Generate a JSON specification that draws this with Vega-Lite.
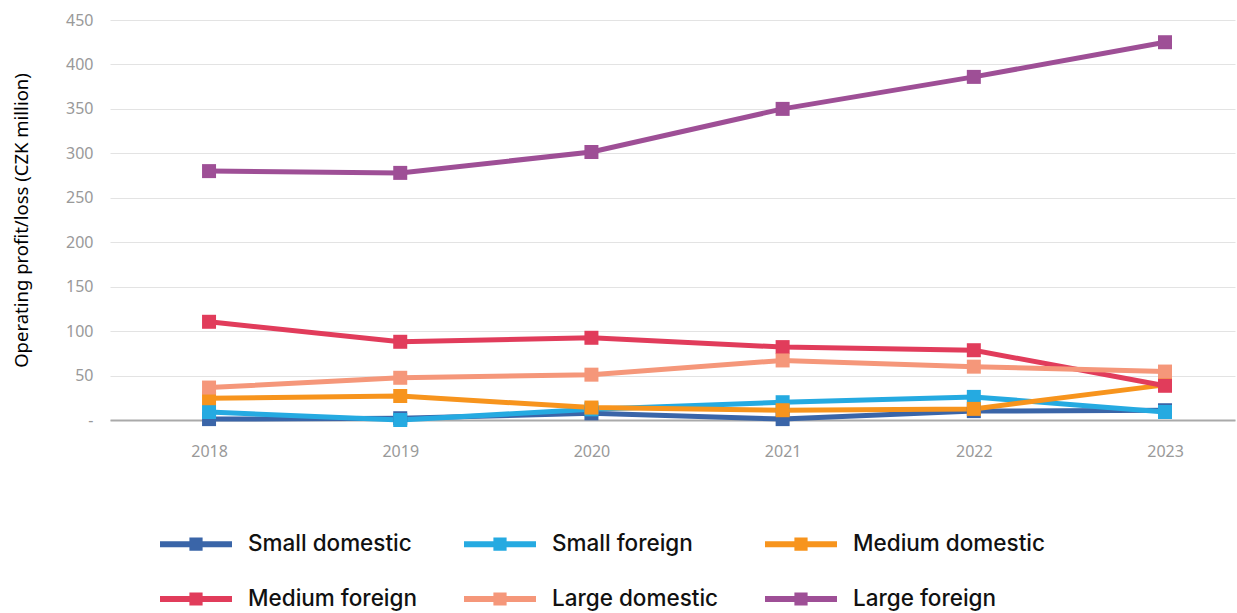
{
  "$schema": "https://vega.github.io/schema/vega-lite/v6.json",
  "width": 1125,
  "height": 400,
  "autosize": {"type": "none"},
  "padding": {"left": 110, "top": 20, "right": 2, "bottom": 193},
  "background": "white",
  "config": {
    "font": "Noto Sans",
    "view": {"stroke": null},
    "axis": {"labelFont": "Noto Sans", "titleFont": "Noto Sans"}
  },
  "data": {
    "values": [
      {"series": "Small domestic", "year": 2018, "value": 1},
      {"series": "Small domestic", "year": 2019, "value": 2},
      {"series": "Small domestic", "year": 2020, "value": 7.5},
      {"series": "Small domestic", "year": 2021, "value": 1},
      {"series": "Small domestic", "year": 2022, "value": 10},
      {"series": "Small domestic", "year": 2023, "value": 11},
      {"series": "Small foreign", "year": 2018, "value": 9},
      {"series": "Small foreign", "year": 2019, "value": 0},
      {"series": "Small foreign", "year": 2020, "value": 12},
      {"series": "Small foreign", "year": 2021, "value": 20},
      {"series": "Small foreign", "year": 2022, "value": 26},
      {"series": "Small foreign", "year": 2023, "value": 9},
      {"series": "Medium domestic", "year": 2018, "value": 24.5},
      {"series": "Medium domestic", "year": 2019, "value": 27},
      {"series": "Medium domestic", "year": 2020, "value": 14},
      {"series": "Medium domestic", "year": 2021, "value": 11},
      {"series": "Medium domestic", "year": 2022, "value": 12.5},
      {"series": "Medium domestic", "year": 2023, "value": 39.5},
      {"series": "Medium foreign", "year": 2018, "value": 110.5},
      {"series": "Medium foreign", "year": 2019, "value": 88},
      {"series": "Medium foreign", "year": 2020, "value": 92.5},
      {"series": "Medium foreign", "year": 2021, "value": 82},
      {"series": "Medium foreign", "year": 2022, "value": 78.5},
      {"series": "Medium foreign", "year": 2023, "value": 38.5},
      {"series": "Large domestic", "year": 2018, "value": 36.5},
      {"series": "Large domestic", "year": 2019, "value": 47.5},
      {"series": "Large domestic", "year": 2020, "value": 51},
      {"series": "Large domestic", "year": 2021, "value": 67},
      {"series": "Large domestic", "year": 2022, "value": 60},
      {"series": "Large domestic", "year": 2023, "value": 54.5},
      {"series": "Large foreign", "year": 2018, "value": 280},
      {"series": "Large foreign", "year": 2019, "value": 278},
      {"series": "Large foreign", "year": 2020, "value": 301.5},
      {"series": "Large foreign", "year": 2021, "value": 350},
      {"series": "Large foreign", "year": 2022, "value": 386},
      {"series": "Large foreign", "year": 2023, "value": 425}
    ]
  },
  "mark": {
    "type": "line",
    "strokeWidth": 5,
    "point": {"shape": "square", "size": 196, "filled": true}
  },
  "encoding": {
    "x": {
      "field": "year",
      "type": "quantitative",
      "scale": {"domain": [2017.482, 2023.366], "nice": false, "zero": false},
      "axis": {
        "title": null,
        "values": [2018, 2019, 2020, 2021, 2022, 2023],
        "format": "d",
        "grid": false,
        "ticks": false,
        "domain": true,
        "domainColor": "#aaaaaa",
        "domainWidth": 2,
        "labelFontSize": 16,
        "labelColor": "#999999",
        "labelPadding": 23
      }
    },
    "y": {
      "field": "value",
      "type": "quantitative",
      "scale": {"domain": [0, 450], "nice": false},
      "axis": {
        "title": "Operating profit/loss (CZK million)",
        "titleFontSize": 18.5,
        "titleFontWeight": "normal",
        "titleColor": "#000000",
        "titlePadding": 34,
        "values": [0, 50, 100, 150, 200, 250, 300, 350, 400, 450],
        "labelExpr": "datum.value == 0 ? '-' : datum.label",
        "labelFontSize": 16,
        "labelColor": "#999999",
        "labelPadding": 17,
        "ticks": false,
        "domain": false,
        "grid": true,
        "gridColor": "#e3e3e3",
        "gridWidth": 1
      }
    },
    "color": {
      "field": "series",
      "type": "nominal",
      "sort": ["Small domestic", "Small foreign", "Medium domestic", "Medium foreign", "Large domestic", "Large foreign"],
      "scale": {
        "domain": ["Small domestic", "Small foreign", "Medium domestic", "Medium foreign", "Large domestic", "Large foreign"],
        "range": ["#3a65a8", "#25aae1", "#f7941d", "#e13c5b", "#f5977a", "#9e4f96"]
      },
      "legend": {
        "title": null,
        "orient": "none",
        "legendX": 47,
        "legendY": 485,
        "direction": "horizontal",
        "columns": 3,
        "columnPadding": 34,
        "rowPadding": -17,
        "symbolType": "M-1,0H1M-0.1,-0.1H0.1V0.1H-0.1Z",
        "symbolSize": 5184,
        "symbolStrokeWidth": 6,
        "labelFont": "Inter",
        "labelFontSize": 22.5,
        "labelFontWeight": 500,
        "labelColor": "#111111",
        "labelOffset": 13,
        "labelLimit": 400
      }
    }
  }
}
